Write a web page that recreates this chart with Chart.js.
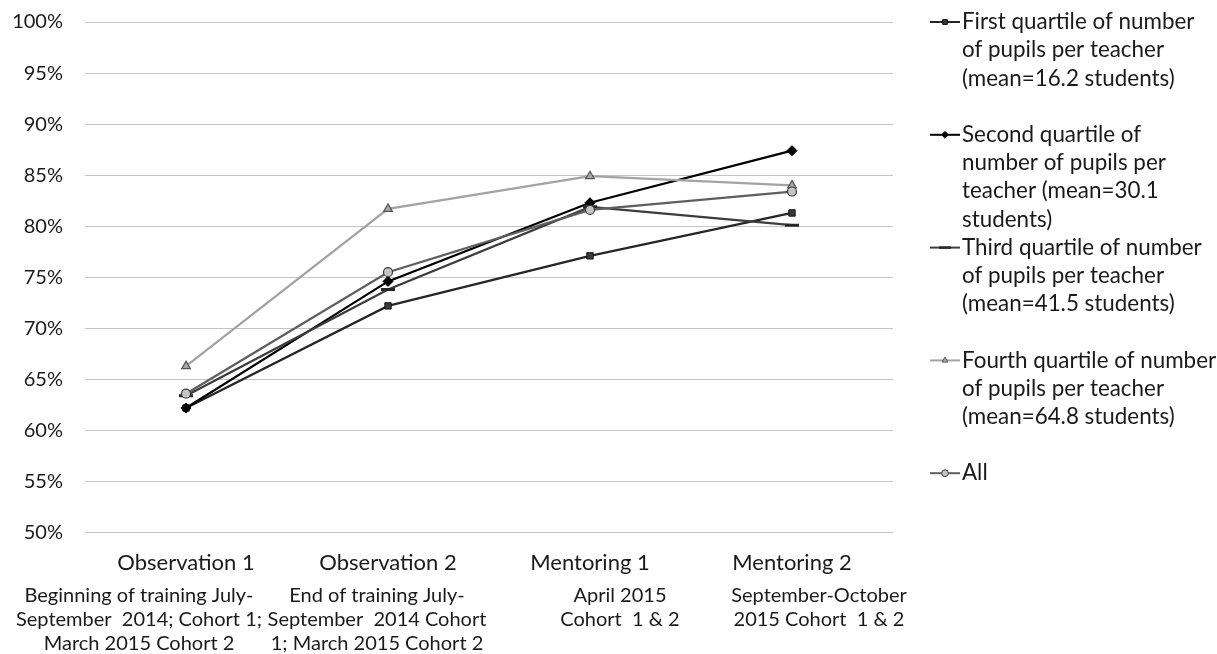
<!DOCTYPE html>
<html>
<head>
<meta charset="utf-8">
<title>Share of practices observed by pupil-teacher ratio quartile</title>
<script src="https://cdn.jsdelivr.net/npm/chart.js@4.4.1/dist/chart.umd.min.js"></script>
<style>
  html, body { margin: 0; padding: 0; background: #ffffff; }
  #wrap { position: relative; width: 1217px; height: 654px; }
</style>
</head>
<body>
<div id="wrap"><canvas id="chart" width="1217" height="654"></canvas></div>
<script>
// Survey rounds along the x axis
const categories = ['Observation 1', 'Observation 2', 'Mentoring 1', 'Mentoring 2'];
// Timing of each round, printed under its name
const periods = [
  ['Beginning of training July-', 'September  2014; Cohort 1;', 'March 2015 Cohort 2'],
  ['End of training July-', 'September  2014 Cohort', '1; March 2015 Cohort 2'],
  ['April 2015', 'Cohort  1 & 2'],
  ['September-October', '2015 Cohort  1 & 2']
];
// Percentages per group
const firstQuartile  = [62.2, 72.2, 77.1, 81.3];
const secondQuartile = [62.2, 74.6, 82.3, 87.4];
const thirdQuartile  = [63.4, 73.8, 81.9, 80.1];
const fourthQuartile = [66.3, 81.7, 84.9, 84.0];
const allGroups      = [63.6, 75.5, 81.6, 83.4];
// Legend text, one entry per line
const seriesNames = [
  ['First quartile of number', 'of pupils per teacher', '(mean=16.2 students)'],
  ['Second quartile of', 'number of pupils per', 'teacher (mean=30.1', 'students)'],
  ['Third quartile of number', 'of pupils per teacher', '(mean=41.5 students)'],
  ['Fourth quartile of number', 'of pupils per teacher', '(mean=64.8 students)'],
  ['All']
];
// Y axis range and tick step
const yMin = 50, yMax = 100, yStep = 5;

const FONT = 'Lato, "Open Sans", sans-serif';
const TEXT = '#1a1a1a';

const styles = [
  { borderColor: '#262626', pointStyle: 'rect',     pointBackgroundColor: '#3a3a3a', pointBorderColor: '#111111', pointRadius: 4.5, pointBorderWidth: 1 },
  { borderColor: '#000000', pointStyle: 'rectRot',  pointBackgroundColor: '#000000', pointBorderColor: '#000000', pointRadius: 5,   pointBorderWidth: 1 },
  { borderColor: '#3c3c3c', pointStyle: 'line',     pointBackgroundColor: '#262626', pointBorderColor: '#262626', pointRadius: 7,   pointBorderWidth: 3 },
  { borderColor: '#a3a3a3', pointStyle: 'triangle', pointBackgroundColor: '#a8a8a8', pointBorderColor: '#555555', pointRadius: 5,   pointBorderWidth: 1.2 },
  { borderColor: '#5e5e5e', pointStyle: 'circle',   pointBackgroundColor: '#c4c4c4', pointBorderColor: '#3a3a3a', pointRadius: 4.5, pointBorderWidth: 1.2 }
];
const seriesData = [firstQuartile, secondQuartile, thirdQuartile, fourthQuartile, allGroups];

const datasets = seriesData.map((d, i) => Object.assign({
  label: seriesNames[i].join(' '),
  data: d,
  borderWidth: 2.25,
  fill: false,
  tension: 0,
  order: seriesData.length - i
}, styles[i]));

// Multi-line timing captions under the category names
const periodCaptions = {
  id: 'periodCaptions',
  afterDraw(chart) {
    const ctx = chart.ctx;
    const x = chart.scales.x;
    const shift = [-47, -11, 30, 27];
    ctx.save();
    ctx.font = '20px ' + FONT;
    ctx.fillStyle = TEXT;
    ctx.textAlign = 'center';
    ctx.textBaseline = 'middle';
    periods.forEach((lines, i) => {
      const cx = x.getPixelForValue(i) + shift[i];
      lines.forEach((t, j) => ctx.fillText(t, cx, chart.chartArea.bottom + 63 + j * 24));
    });
    ctx.restore();
  }
};

// Legend on the right, one block of four text lines per series
const sideLegend = {
  id: 'sideLegend',
  afterDraw(chart) {
    const ctx = chart.ctx;
    const area = chart.chartArea;
    const x0 = area.right + 37;
    const lineH = 28.2;
    const block = lineH * 4;
    chart.data.datasets.forEach((ds, i) => {
      const y = area.top + i * block;
      const isDash = ds.pointStyle === 'line';
      ctx.save();
      ctx.strokeStyle = ds.borderColor;
      ctx.lineWidth = 2;
      ctx.beginPath();
      ctx.moveTo(x0, y);
      ctx.lineTo(x0 + 30, y);
      ctx.stroke();
      ctx.fillStyle = ds.pointBackgroundColor;
      ctx.strokeStyle = ds.pointBorderColor;
      ctx.lineWidth = isDash ? 2.5 : 1;
      Chart.helpers.drawPoint(ctx, {
        pointStyle: ds.pointStyle,
        radius: isDash ? 6 : 3.4,
        borderWidth: ctx.lineWidth
      }, x0 + 15, y);
      ctx.font = '22.4px ' + FONT;
      ctx.fillStyle = TEXT;
      ctx.textAlign = 'left';
      ctx.textBaseline = 'middle';
      seriesNames[i].forEach((t, j) => ctx.fillText(t, x0 + 32, y + j * lineH));
      ctx.restore();
    });
  }
};

new Chart(document.getElementById('chart'), {
  type: 'line',
  data: { labels: categories, datasets },
  options: {
    responsive: false,
    animation: false,
    layout: { padding: { left: 10, right: 324, top: 22, bottom: 69 } },
    plugins: { legend: { display: false }, tooltip: { enabled: false } },
    scales: {
      x: {
        offset: true,
        grid: { display: false },
        border: { display: false },
        ticks: { color: TEXT, font: { family: FONT, size: 22 }, padding: 9, maxRotation: 0 }
      },
      y: {
        min: yMin,
        max: yMax,
        grid: { color: '#c4c4c4', lineWidth: 1, drawTicks: false },
        border: { display: false },
        afterFit(scale) {
          scale.width = 75;
          scale.paddingTop = 0;
          scale.paddingBottom = 0;
        },
        ticks: {
          stepSize: yStep,
          color: TEXT,
          padding: 22,
          font: { family: FONT, size: 20 },
          callback: v => v + '%'
        }
      }
    }
  },
  plugins: [periodCaptions, sideLegend]
});
</script>
</body>
</html>
